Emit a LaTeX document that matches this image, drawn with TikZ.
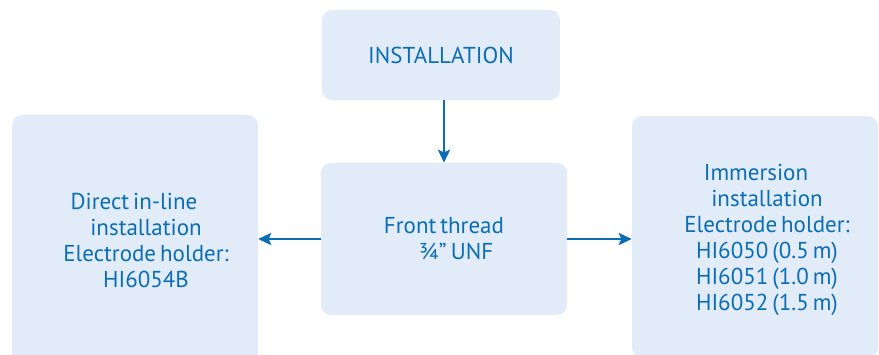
\documentclass[tikz,border=0pt]{standalone}
\usepackage{fontspec}
\setmainfont{PT Sans}
\usetikzlibrary{arrows.meta}
\definecolor{boxfill}{HTML}{E1ECF8}
\definecolor{ink}{HTML}{0B6DB5}
\newcommand{\panelfont}{\fontsize{23}{26}\selectfont\spaceskip=4pt plus 1pt minus 1pt\relax}
\tikzset{
  panel/.style={fill=boxfill, draw=none, rounded corners=10pt, inner sep=0pt, text=ink, align=center,
     font=\panelfont},
  caption/.style={inner sep=0pt, text=ink, align=center, font=\panelfont},
  link/.style={draw=ink, line width=2.6pt, -{Stealth[length=13pt,width=12pt,inset=2.5pt]}}
}
\begin{document}
\begin{tikzpicture}[x=1pt,y=-1pt]
\useasboundingbox (0,0) rectangle (879,354);
\node[panel, minimum width=238pt, minimum height=90pt] (top) at (441,55) {INSTALLATION};
\node[panel, minimum width=246pt, minimum height=152pt] (mid) at (444,239) {Front thread\\\hspace*{24pt}¾” UNF};
\node[panel, minimum width=246pt, minimum height=250pt] (left) at (135,240) {};
\node[panel, minimum width=246pt, minimum height=242pt] (right) at (755,237) {};
\node[caption] (lefttext) at ([xshift=11pt]left.center) {Direct in-line\hspace*{24pt}\\installation\\Electrode holder:\\HI6054B};
\node[caption] (righttext) at ([xshift=12pt,yshift=-3pt]right.center) {Immersion\hspace*{22pt}\\installation\\Electrode holder:\\HI6050 (0.5 m)\\HI6051 (1.0 m)\\HI6052 (1.5 m)};
\draw[link] (mid.north |- top.south) -- (mid.north);
\draw[link] (mid.west) -- (mid.west -| left.east);
\draw[link] (mid.east) -- (mid.east -| right.west);
\end{tikzpicture}
\end{document}
